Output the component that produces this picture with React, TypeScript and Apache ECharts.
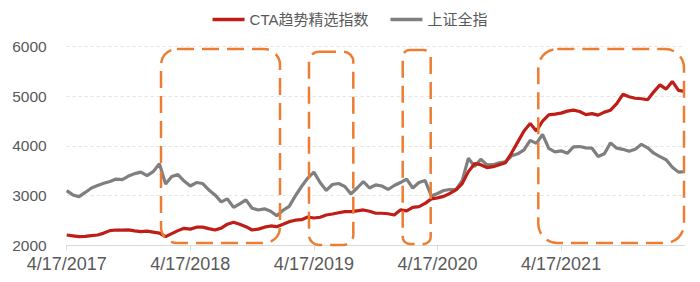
import React, { useEffect, useRef } from "react";
import * as echarts from "echarts";

const X_LABELS = ["4/17/2017", "4/17/2018", "4/17/2019", "4/17/2020", "4/17/2021"];
const X_LABEL_POS = [0, 20, 40, 60, 80];
const SERIES_NAMES = ["CTA趋势精选指数", "上证全指"];

const CTA_VALUES = [
  2202, 2185, 2168, 2175, 2190, 2202, 2240, 2290, 2303, 2300,
  2305, 2285, 2270, 2280, 2260, 2240, 2168, 2230, 2290, 2337,
  2320, 2360, 2360, 2330, 2303, 2340, 2420, 2460, 2420, 2370,
  2303, 2320, 2360, 2384, 2370, 2420, 2471, 2500, 2510, 2565,
  2545, 2560, 2606, 2626, 2650, 2673, 2673, 2690, 2707, 2680,
  2640, 2640, 2630, 2606, 2707, 2690, 2760, 2774, 2840, 2930,
  2950, 2980, 3040, 3110, 3240, 3480, 3640, 3620, 3560, 3580,
  3620, 3660, 3860, 4080, 4300, 4450, 4300, 4500, 4626, 4640,
  4660, 4700, 4720, 4693, 4630, 4650, 4620, 4680, 4720, 4850,
  5040, 4990, 4960, 4950, 4930, 5090, 5230, 5145, 5300, 5120,
  5097,
];

const SSE_VALUES = [
  3097, 3010, 2976, 3060, 3150, 3200, 3246, 3280, 3330, 3320,
  3390, 3440, 3470, 3400, 3480, 3640, 3230, 3380, 3420, 3290,
  3190, 3260, 3240, 3110, 3010, 2870, 2930, 2760, 2830, 2910,
  2741, 2707, 2730, 2680, 2590, 2700, 2780, 2990, 3180, 3350,
  3470, 3260, 3100, 3220, 3240, 3180, 3030, 3150, 3279, 3150,
  3212, 3190, 3120, 3200, 3260, 3330, 3150, 3260, 3300, 2990,
  3040, 3100, 3120, 3120, 3300, 3751, 3582, 3731, 3616, 3620,
  3660, 3680, 3800, 3840, 3920, 4110, 4050, 4230, 3950, 3880,
  3900, 3850, 3980, 3986, 3960, 3953, 3784, 3840, 4060, 3953,
  3930, 3890, 3930, 4030, 3960, 3852, 3784, 3720, 3570, 3470,
  3481,
];

const Y_MIN = 2000;
const Y_MAX = 6000;
const Y_STEP = 1000;

const TEXT_FONT = "'Liberation Sans', Arial, 'Noto Sans CJK SC', sans-serif";
const ORANGE = "#ED7D31";
const RED = "#BE1E16";
const GRAY = "#7F7F7F";

function dashedBox(x: number, y: number, w: number, h: number, r: number) {
  return {
    type: "rect",
    z: 100,
    silent: true,
    shape: { x, y, width: w, height: h, r },
    style: { fill: "none", stroke: ORANGE, lineWidth: 2.5, lineDash: [17, 8] },
  };
}

export default function App() {
  const ref = useRef<HTMLDivElement>(null);
  useEffect(() => {
    if (!ref.current) return;
    const chart = echarts.init(ref.current, null, { renderer: "svg" });
    chart.setOption({
      animation: false,
      backgroundColor: "#ffffff",
      grid: { left: 66.7, right: 15.3, top: 46.7, bottom: 37 },
      legend: {
        top: 7,
        left: "center",
        icon: "rect",
        itemWidth: 32,
        itemHeight: 3.5,
        itemGap: 22,
        textStyle: { fontSize: 15, color: "#595959", fontFamily: TEXT_FONT, lineHeight: 14 },
        data: SERIES_NAMES,
      },
      xAxis: {
        type: "value",
        min: 0,
        max: CTA_VALUES.length - 1,
        axisLine: { show: true, lineStyle: { color: "#d9d9d9", width: 1 } },
        axisTick: {
          show: true,
          length: 5,
          customValues: X_LABEL_POS,
          lineStyle: { color: "#d9d9d9" },
        },
        axisLabel: {
          customValues: X_LABEL_POS,
          margin: 10,
          fontSize: 18,
          color: "#595959",
          fontFamily: TEXT_FONT,
          formatter: (v: number) => {
            const idx = X_LABEL_POS.indexOf(Math.round(v));
            return idx >= 0 ? X_LABELS[idx] : "";
          },
        },
        splitLine: { show: false },
      },
      yAxis: {
        type: "value",
        min: Y_MIN,
        max: Y_MAX,
        interval: Y_STEP,
        axisLine: { show: false },
        axisTick: { show: false },
        axisLabel: {
          margin: 20,
          fontSize: 15.5,
          color: "#595959",
          fontFamily: TEXT_FONT,
          formatter: (v: number) => String(v),
        },
        splitLine: { show: true, lineStyle: { color: "#e3e3e3", type: [3, 3], width: 1 } },
      },
      series: [
        {
          name: SERIES_NAMES[0],
          type: "line",
          data: CTA_VALUES.map((v, i) => [i, v]),
          showSymbol: false,
          symbol: "none",
          lineStyle: { color: RED, width: 3.2 },
          itemStyle: { color: RED },
          z: 3,
        },
        {
          name: SERIES_NAMES[1],
          type: "line",
          data: SSE_VALUES.map((v, i) => [i, v]),
          showSymbol: false,
          symbol: "none",
          lineStyle: { color: GRAY, width: 3.2 },
          itemStyle: { color: GRAY },
          z: 2,
        },
      ],
      graphic: [
        dashedBox(161, 49, 119, 194, 16),
        dashedBox(309, 51.7, 44.3, 193.3, 10),
        dashedBox(402.7, 50, 28, 194, 7),
        dashedBox(538.3, 49, 145.7, 194, 19),
      ],
    });
    return () => chart.dispose();
  }, []);
  return (
    <div
      ref={ref}
      style={{ position: "fixed", left: 0, top: 0, width: 700, height: 282 }}
    />
  );
}
